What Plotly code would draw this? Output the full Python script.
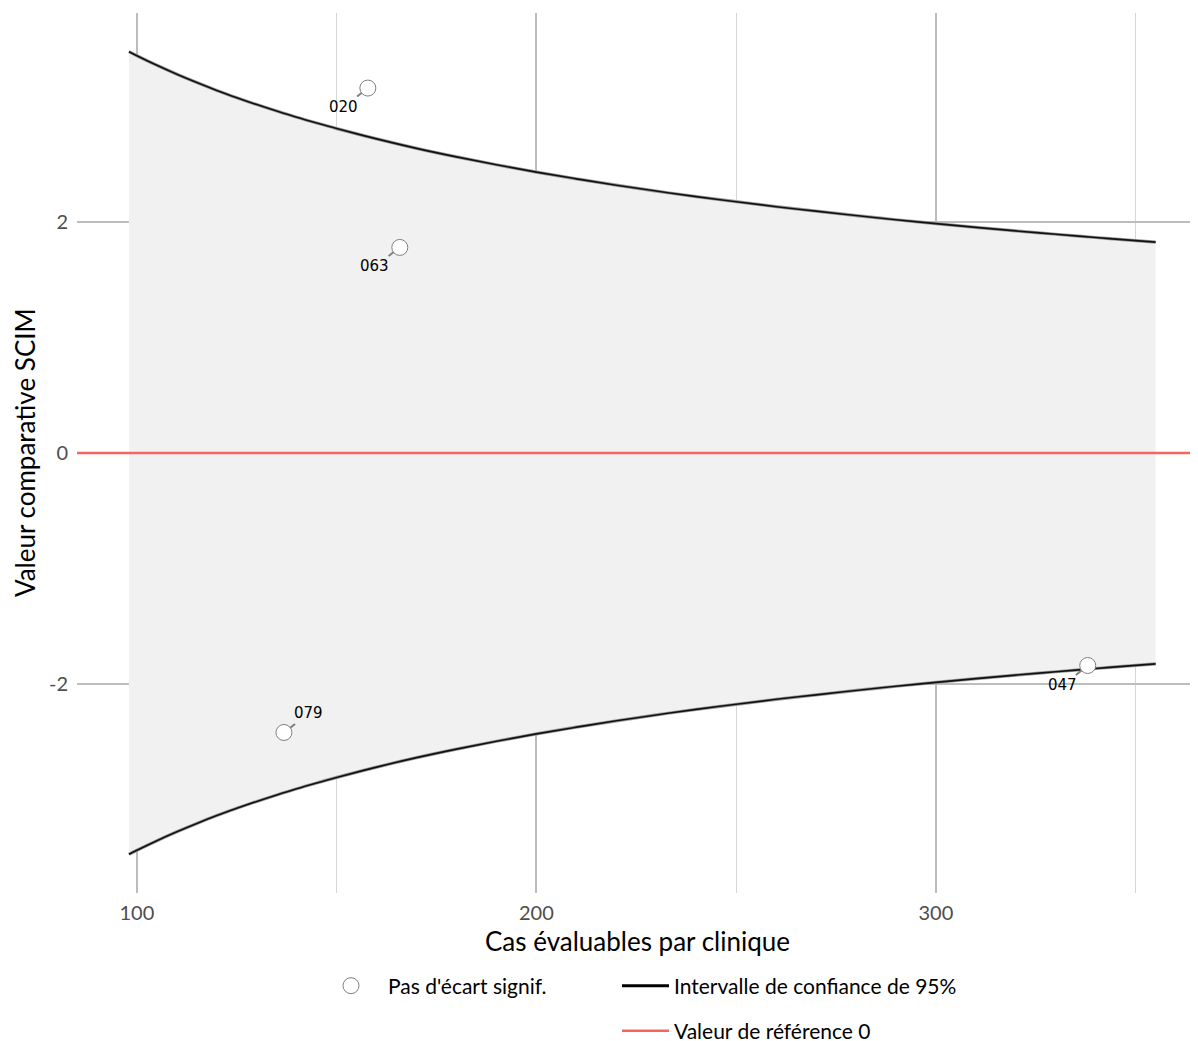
import plotly.graph_objects as go

# Confidence band (cases per clinic -> bound)
band_n = [98, 100, 105, 110, 115, 120, 125, 130, 135, 140, 145, 150, 160, 170, 180, 190, 200,
          210, 220, 230, 240, 250, 260, 270, 280, 290, 300, 310, 320, 330, 340, 350, 355]
band_upper = [3.475, 3.440, 3.357, 3.280, 3.208, 3.140, 3.077, 3.017, 2.961, 2.907, 2.857,
              2.809, 2.720, 2.638, 2.564, 2.496, 2.432, 2.374, 2.319, 2.268, 2.220, 2.176,
              2.133, 2.094, 2.056, 2.020, 1.986, 1.954, 1.923, 1.894, 1.866, 1.839, 1.826]
band_lower = [-v for v in band_upper]

# Clinics
clinic_ids = ["020", "063", "079", "047"]
clinic_n = [157.8, 165.8, 136.8, 338.0]
clinic_val = [3.16, 1.78, -2.42, -1.84]
label_dx = [-24, -25, 25, -25]
label_dy = [19, 19, -19, 20]

ref_x = [85.0, 365.6]
ref_y = [0, 0]

x_ticks = [100, 200, 300]
x_minor = [150, 250, 350]
y_ticks = [-2, 0, 2]
y_ticktext = ["-2", "0", "2"]

AX_FONT = "Lato"
fig = go.Figure()

# shaded band
fig.add_trace(go.Scatter(x=band_n, y=band_lower, mode="lines", line=dict(width=0),
                         showlegend=False, hoverinfo="skip"))
fig.add_trace(go.Scatter(x=band_n, y=band_upper, mode="lines", line=dict(width=0),
                         fill="tonexty", fillcolor="#f1f1f1", showlegend=False, hoverinfo="skip"))

# reference line
fig.add_trace(go.Scatter(x=ref_x, y=ref_y, mode="lines", line=dict(color="#f8645f", width=2.5),
                         name="Valeur de référence 0", legend="legend3"))

# confidence lines (soft grey shadow + black line)
for yy in (band_upper, band_lower):
    fig.add_trace(go.Scatter(x=band_n, y=yy, mode="lines", line=dict(color="#9a9a9a", width=3.2, shape="spline"),
                             showlegend=False, hoverinfo="skip"))
fig.add_trace(go.Scatter(x=band_n, y=band_upper, mode="lines", line=dict(color="#111111", width=1.6, shape="spline"),
                         showlegend=False, legendgroup="ci", hoverinfo="skip"))
fig.add_trace(go.Scatter(x=band_n, y=band_lower, mode="lines", line=dict(color="#111111", width=1.6, shape="spline"),
                         showlegend=False, legendgroup="ci", hoverinfo="skip"))
# legend entry for the confidence interval (thicker key line)
fig.add_trace(go.Scatter(x=[None], y=[None], mode="lines", line=dict(color="black", width=3),
                         name="Intervalle de confiance de 95%", legend="legend2", legendgroup="ci"))

# clinic points
fig.add_trace(go.Scatter(x=clinic_n, y=clinic_val, mode="markers",
                         marker=dict(symbol="circle", size=16, color="white",
                                     line=dict(color="#7f7f7f", width=1)),
                         name="Pas d'écart signif.", legend="legend"))

for cid, xn, yv, dx, dy in zip(clinic_ids, clinic_n, clinic_val, label_dx, label_dy):
    fig.add_annotation(x=xn, y=yv, text=cid, showarrow=True, ax=dx, ay=dy,
                       arrowhead=0, arrowwidth=2, arrowcolor="#808080", standoff=8,
                       font=dict(family="DejaVu Sans", size=15, color="black"))

# axis titles (positions relative to the plot area)
fig.add_annotation(x=0.5, y=(893 - 941) / 880, xref="paper", yref="paper", yanchor="middle",
                   text="Cas évaluables par clinique", showarrow=False,
                   font=dict(family=AX_FONT, size=26, color="black"))
fig.add_annotation(x=(25 - 77) / 1121, y=0.5, xref="paper", yref="paper", text="Valeur comparative SCIM",
                   textangle=-90, showarrow=False, xanchor="center", yanchor="middle",
                   font=dict(family=AX_FONT, size=26, color="black"))

grid_major = "#bdbdbd"
grid_minor = "#d6d6d6"
leg_font = dict(family=AX_FONT, size=21, color="black")

fig.update_layout(
    width=1198, height=1041,
    paper_bgcolor="white", plot_bgcolor="white",
    margin=dict(l=69, r=8, t=5, b=156, autoexpand=False),
    font=dict(family=AX_FONT, size=20, color="#4d4d4d"),
    xaxis=dict(range=[85.0, 365.6], tickvals=x_ticks, showgrid=True,
               gridcolor=grid_major, gridwidth=2, zeroline=False, showline=False,
               ticks="", ticklabelstandoff=6,
               tickfont=dict(family=AX_FONT, size=20, color="#4d4d4d"),
               minor=dict(tickvals=x_minor, showgrid=True, gridcolor=grid_minor, gridwidth=1)),
    yaxis=dict(range=[-3.81, 3.81], tickvals=y_ticks, ticktext=y_ticktext, showgrid=True,
               gridcolor=grid_major, gridwidth=2, zeroline=False, showline=False,
               ticks="", ticklabelstandoff=8,
               tickfont=dict(family=AX_FONT, size=20, color="#4d4d4d")),
    legend=dict(orientation="h", x=(314 - 77) / 1121, xanchor="left", y=(893 - 986) / 880, yanchor="middle",
                itemwidth=64, font=leg_font, bgcolor="rgba(0,0,0,0)"),
    legend2=dict(orientation="h", x=(617 - 77) / 1121, xanchor="left", y=(893 - 986) / 880, yanchor="middle",
                 itemwidth=47, font=leg_font, bgcolor="rgba(0,0,0,0)"),
    legend3=dict(orientation="h", x=(617 - 77) / 1121, xanchor="left", y=(893 - 1031) / 880, yanchor="middle",
                 itemwidth=47, font=leg_font, bgcolor="rgba(0,0,0,0)"),
)

fig.write_html("out.html")
